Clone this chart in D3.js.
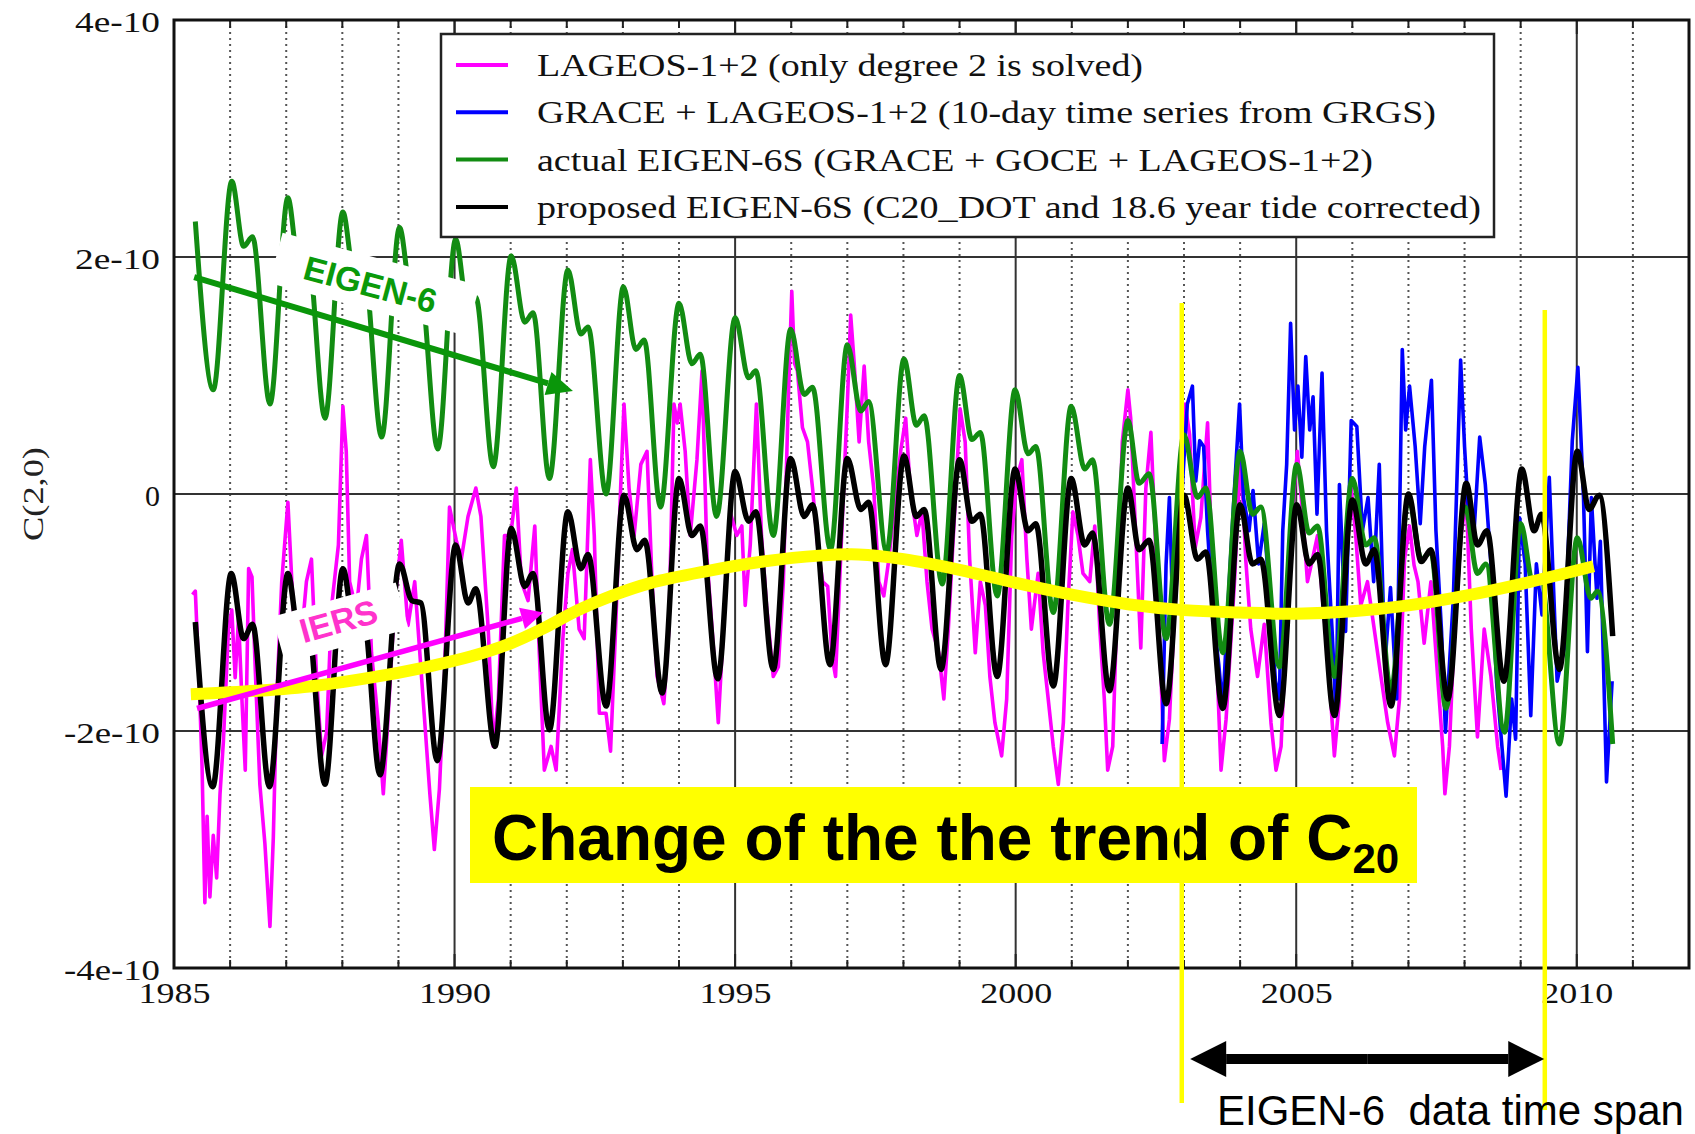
<!DOCTYPE html>
<html>
<head>
<meta charset="utf-8">
<script src="https://cdn.jsdelivr.net/npm/d3@7"></script>
<style>
  html, body { margin: 0; padding: 0; background: #fff; }
  svg { display: block; }
</style>
</head>
<body>
<svg id="chart" width="1695" height="1134"></svg>
<script>
// C(2,0) time series, values in units of 1e-10, time in decimal years

// proposed EIGEN-6S (C20_DOT and 18.6 year tide corrected)
const proposedSeries = [
  [1985.38,-1.08],[1985.69,-2.47],[1986.02,-0.67],[1986.24,-1.22],[1986.40,-1.10],[1986.70,-2.47],
  [1987.03,-0.67],[1987.23,-1.20],[1987.38,-1.08],[1987.69,-2.45],
  [1988.01,-0.63],[1988.22,-1.15],[1988.38,-1.05],[1988.67,-2.37],
  [1989.02,-0.59],[1989.24,-0.90],[1989.40,-0.92],[1989.69,-2.25],
  [1990.02,-0.43],[1990.24,-0.92],[1990.38,-0.80],[1990.72,-2.13],
  [1991.01,-0.29],[1991.25,-0.78],[1991.40,-0.67],[1991.69,-1.99],
  [1992.02,-0.15],[1992.25,-0.63],[1992.38,-0.51],[1992.70,-1.79],
  [1993.02,-0.01],[1993.25,-0.47],[1993.39,-0.39],[1993.70,-1.68],
  [1994.00,0.13],[1994.23,-0.35],[1994.38,-0.27],[1994.69,-1.56],
  [1995.00,0.19],[1995.24,-0.23],[1995.37,-0.15],[1995.68,-1.48],
  [1995.99,0.30],[1996.23,-0.19],[1996.38,-0.09],[1996.69,-1.44],
  [1997.00,0.30],[1997.24,-0.13],[1997.38,-0.07],[1997.68,-1.44],
  [1998.01,0.32],[1998.23,-0.19],[1998.37,-0.13],[1998.67,-1.48],
  [1999.00,0.29],[1999.22,-0.23],[1999.37,-0.17],[1999.67,-1.54],
  [1999.99,0.21],[2000.22,-0.31],[2000.36,-0.25],[2000.67,-1.62],
  [2000.99,0.13],[2001.23,-0.43],[2001.37,-0.33],[2001.67,-1.66],
  [2002.00,0.05],[2002.20,-0.47],[2002.38,-0.39],[2002.68,-1.77],
  [2003.00,-0.01],[2003.24,-0.55],[2003.39,-0.49],[2003.69,-1.81],
  [2004.00,-0.09],[2004.22,-0.59],[2004.37,-0.55],[2004.70,-1.87],
  [2005.01,-0.09],[2005.23,-0.59],[2005.38,-0.51],[2005.68,-1.87],
  [2006.00,-0.05],[2006.24,-0.59],[2006.39,-0.47],[2006.69,-1.79],
  [2007.00,0.00],[2007.23,-0.57],[2007.40,-0.47],[2007.70,-1.73],
  [2008.03,0.09],[2008.23,-0.43],[2008.40,-0.31],[2008.70,-1.58],
  [2009.02,0.21],[2009.24,-0.31],[2009.37,-0.17],[2009.69,-1.48],
  [2010.01,0.36],[2010.22,-0.13],[2010.40,-0.01],[2010.64,-1.20]
];

// actual EIGEN-6S (GRACE + GOCE + LAGEOS-1+2)
const actualSeries = [
  [1985.38,2.30],[1985.70,0.88],[1986.03,2.64],[1986.24,2.09],[1986.40,2.17],[1986.71,0.76],
  [1987.03,2.50],[1987.22,1.95],[1987.38,2.05],[1987.69,0.64],
  [1988.01,2.38],[1988.21,1.85],[1988.38,1.93],[1988.70,0.48],
  [1989.02,2.25],[1989.22,1.72],[1989.38,1.80],[1989.70,0.38],
  [1990.02,2.15],[1990.23,1.58],[1990.38,1.66],[1990.69,0.23],
  [1991.01,2.01],[1991.25,1.45],[1991.40,1.53],[1991.69,0.13],
  [1992.02,1.89],[1992.25,1.35],[1992.38,1.41],[1992.70,0.00],
  [1993.01,1.75],[1993.23,1.22],[1993.38,1.30],[1993.67,-0.11],
  [1994.00,1.61],[1994.23,1.10],[1994.38,1.18],[1994.67,-0.19],
  [1995.00,1.49],[1995.24,0.98],[1995.37,1.04],[1995.68,-0.35],
  [1995.99,1.39],[1996.23,0.84],[1996.38,0.90],[1996.70,-0.47],
  [1997.00,1.26],[1997.24,0.70],[1997.38,0.78],[1997.70,-0.49],
  [1998.01,1.14],[1998.23,0.58],[1998.37,0.66],[1998.69,-0.76],
  [1999.00,1.00],[1999.22,0.46],[1999.37,0.52],[1999.67,-0.86],
  [1999.99,0.88],[2000.22,0.34],[2000.36,0.40],[2000.67,-1.00],
  [2000.99,0.74],[2001.23,0.21],[2001.37,0.29],[2001.67,-1.10],
  [2002.00,0.62],[2002.20,0.09],[2002.38,0.17],[2002.68,-1.22],
  [2003.00,0.50],[2003.24,-0.03],[2003.39,0.05],[2003.69,-1.34],
  [2004.00,0.36],[2004.22,-0.17],[2004.37,-0.11],[2004.70,-1.46],
  [2005.01,0.25],[2005.23,-0.33],[2005.38,-0.27],[2005.68,-1.54],
  [2006.00,0.13],[2006.24,-0.43],[2006.39,-0.37],[2006.69,-1.66],
  [2007.00,-0.03],[2007.23,-0.55],[2007.40,-0.49],[2007.67,-1.81],
  [2008.01,-0.11],[2008.23,-0.67],[2008.38,-0.59],[2008.71,-2.01],
  [2009.00,-0.25],[2009.22,-0.75],[2009.36,-0.72],[2009.69,-2.11],
  [2010.01,-0.37],[2010.25,-0.88],[2010.37,-0.82],[2010.64,-2.11]
];

// LAGEOS-1+2 (only degree 2 is solved)
const lageosSeries = [
  [1985.33,-0.85],[1985.38,-0.82],[1985.45,-1.60],[1985.50,-2.30],[1985.55,-3.45],[1985.59,-2.72],
  [1985.64,-3.40],[1985.70,-2.88],[1985.76,-3.24],[1985.82,-2.53],[1985.88,-2.09],[1985.97,-1.14],
  [1986.03,-0.98],[1986.09,-1.55],[1986.15,-1.05],[1986.21,-1.73],[1986.27,-2.33],[1986.33,-0.63],
  [1986.39,-0.70],[1986.45,-1.50],[1986.53,-2.45],[1986.62,-2.95],[1986.71,-3.65],[1986.77,-2.90],
  [1986.83,-1.73],[1986.92,-0.74],[1987.03,-0.07],[1987.10,-0.74],[1987.16,-1.26],[1987.25,-1.33],
  [1987.36,-0.74],[1987.45,-0.55],[1987.54,-1.54],[1987.63,-2.21],[1987.72,-2.01],[1987.81,-0.94],
  [1987.93,-0.43],[1988.01,0.74],[1988.07,0.36],[1988.13,-0.74],[1988.25,-0.98],[1988.34,-0.55],
  [1988.43,-0.35],[1988.52,-1.34],[1988.64,-1.93],[1988.73,-2.53],[1988.81,-1.93],[1988.93,-0.94],
  [1989.05,-0.39],[1989.17,-1.11],[1989.29,-0.74],[1989.44,-1.73],[1989.56,-2.53],[1989.64,-3.00],
  [1989.73,-2.49],[1989.82,-1.54],[1989.91,-0.11],[1990.03,-0.39],[1990.12,-0.55],[1990.24,-0.19],
  [1990.38,0.05],[1990.47,-0.19],[1990.60,-1.14],[1990.69,-2.13],[1990.78,-1.73],[1990.89,-0.35],
  [1991.00,-0.35],[1991.10,0.05],[1991.19,-0.74],[1991.31,-0.90],[1991.43,-0.27],[1991.51,-1.34],
  [1991.60,-2.33],[1991.72,-2.13],[1991.81,-2.33],[1991.93,-1.22],[1992.02,-0.67],[1992.10,-0.47],
  [1992.22,-1.14],[1992.31,-1.22],[1992.42,0.29],[1992.49,-0.35],[1992.58,-1.85],[1992.70,-1.85],
  [1992.78,-2.17],[1992.87,-1.14],[1992.96,0.05],[1993.02,0.76],[1993.11,0.05],[1993.20,-0.35],
  [1993.32,0.25],[1993.43,0.36],[1993.52,-0.74],[1993.61,-1.54],[1993.73,-1.77],[1993.82,-1.14],
  [1993.91,0.76],[1993.97,0.60],[1994.02,0.76],[1994.11,0.36],[1994.20,-0.35],[1994.32,0.29],
  [1994.41,1.04],[1994.50,-0.55],[1994.62,-1.34],[1994.70,-1.93],[1994.79,-1.14],[1994.91,-0.15],
  [1995.03,-0.35],[1995.12,-0.27],[1995.18,-0.94],[1995.27,-0.43],[1995.38,0.76],[1995.47,-0.35],
  [1995.56,-0.94],[1995.68,-1.54],[1995.77,-1.46],[1995.86,-0.74],[1995.95,0.84],[1996.01,1.71],
  [1996.06,1.10],[1996.11,1.04],[1996.20,0.56],[1996.29,0.44],[1996.38,0.05],[1996.47,-0.43],
  [1996.56,-0.74],[1996.65,-0.78],[1996.73,-1.38],[1996.79,-1.54],[1996.88,-0.55],[1997.00,0.76],
  [1997.06,1.51],[1997.12,1.12],[1997.21,0.44],[1997.30,1.08],[1997.38,0.44],[1997.47,0.05],
  [1997.56,-0.74],[1997.65,-0.86],[1997.74,-0.55],[1997.83,-0.15],[1997.95,0.36],[1998.04,0.64],
  [1998.12,0.05],[1998.24,-0.35],[1998.33,-0.15],[1998.42,-0.74],[1998.51,-1.14],[1998.63,-1.34],
  [1998.72,-1.73],[1998.80,-1.14],[1998.89,-0.35],[1999.01,0.72],[1999.10,0.44],[1999.18,-0.55],
  [1999.28,-1.34],[1999.37,-0.74],[1999.46,-0.94],[1999.54,-1.54],[1999.63,-1.93],[1999.75,-2.21],
  [1999.84,-1.73],[1999.93,-0.35],[2000.02,0.13],[2000.11,0.29],[2000.20,-0.55],[2000.28,-1.14],
  [2000.40,-0.67],[2000.49,-1.34],[2000.58,-1.73],[2000.67,-2.13],[2000.76,-2.45],[2000.85,-1.93],
  [2000.93,-0.94],[2001.02,-0.15],[2001.11,-0.35],[2001.20,-0.67],[2001.32,-0.74],[2001.41,-0.27],
  [2001.50,-1.14],[2001.58,-1.73],[2001.64,-2.33],[2001.73,-2.13],[2001.82,-0.74],[2001.90,0.44],
  [2002.00,0.88],[2002.05,0.64],[2002.14,-0.35],[2002.23,-1.30],[2002.32,0.05],[2002.41,0.52],
  [2002.47,-0.15],[2002.56,-1.20],[2002.65,-2.25],[2002.74,-1.90],[2002.85,-0.80],[2002.95,0.30],
  [2003.02,0.76],[2003.10,0.50],[2003.20,-0.45],[2003.30,-0.20],[2003.42,0.60],[2003.52,-0.90],
  [2003.60,-1.60],[2003.66,-2.33],[2003.75,-1.90],[2003.90,-0.74],[2004.01,0.36],[2004.10,-0.55],
  [2004.19,-1.14],[2004.31,-1.54],[2004.43,-1.10],[2004.55,-1.93],[2004.64,-2.33],[2004.73,-2.13],
  [2004.82,-1.14],[2004.90,-0.35],[2005.02,0.36],[2005.11,-0.15],[2005.20,-0.74],[2005.29,-0.55],
  [2005.38,-0.35],[2005.47,-0.90],[2005.56,-1.34],[2005.68,-2.21],[2005.77,-1.73],[2005.86,-0.74],
  [2005.98,0.05],[2006.06,-0.35],[2006.15,-0.94],[2006.27,-0.74],[2006.39,-1.14],[2006.51,-1.54],
  [2006.63,-1.93],[2006.75,-2.21],[2006.84,-1.73],[2006.93,-0.55],[2007.02,-0.27],[2007.10,-0.60],
  [2007.17,-0.74],[2007.28,-1.26],[2007.40,-0.74],[2007.52,-1.54],[2007.61,-2.13],[2007.65,-2.53],
  [2007.73,-2.13],[2007.82,-1.14],[2007.94,-0.35],[2008.03,-0.03],[2008.12,-1.14],[2008.23,-2.05],
  [2008.35,-1.14],[2008.47,-1.54],[2008.59,-2.13],[2008.65,-2.33]
];

// GRACE + LAGEOS-1+2 (10-day time series from GRGS)
const graceSeries = [
  [2002.61,-2.11],[2002.68,-0.60],[2002.74,-0.03],[2002.81,-1.16],[2002.90,-0.50],[2003.00,0.30],
  [2003.06,0.76],[2003.15,0.91],[2003.21,0.11],[2003.28,0.45],[2003.35,0.40],[2003.42,-0.31],
  [2003.52,-1.02],[2003.62,-1.44],[2003.69,-1.81],[2003.79,-0.88],[2003.89,-0.03],[2003.99,0.76],
  [2004.06,-0.03],[2004.16,-0.31],[2004.23,0.03],[2004.33,-0.59],[2004.43,-0.25],[2004.53,-0.88],
  [2004.63,-1.58],[2004.70,-1.73],[2004.76,-0.31],[2004.83,0.25],[2004.90,1.44],[2004.97,0.54],
  [2005.03,0.91],[2005.10,0.31],[2005.17,1.16],[2005.24,0.54],[2005.30,0.82],[2005.37,-0.17],
  [2005.46,1.02],[2005.54,-0.31],[2005.64,-1.16],[2005.71,-1.87],[2005.77,0.08],[2005.88,-1.16],
  [2005.98,0.62],[2006.08,0.57],[2006.18,-0.31],[2006.28,-0.03],[2006.38,-0.74],[2006.48,0.25],
  [2006.58,-1.44],[2006.68,-0.79],[2006.79,-1.73],[2006.89,1.22],[2006.95,0.54],[2007.02,0.91],
  [2007.12,0.40],[2007.21,-0.25],[2007.29,0.40],[2007.41,0.96],[2007.49,-0.31],[2007.59,-1.16],
  [2007.66,-2.01],[2007.80,-0.88],[2007.93,1.13],[2008.00,0.40],[2008.07,-0.17],[2008.17,-0.31],
  [2008.27,0.48],[2008.37,0.08],[2008.47,-0.59],[2008.57,-1.58],[2008.67,-2.15],[2008.74,-2.55],
  [2008.84,-1.73],[2008.91,-2.07],[2008.98,-0.20],[2009.08,-0.59],[2009.18,-1.87],[2009.28,-0.59],
  [2009.38,-1.02],[2009.51,0.14],[2009.65,-1.58],[2009.78,-1.30],[2009.92,0.45],[2010.02,1.07],
  [2010.12,-0.03],[2010.19,-1.33],[2010.26,-0.03],[2010.36,-0.88],[2010.42,-0.40],[2010.53,-2.43],
  [2010.63,-1.58]
];

// long-term trend of C20 (hand-drawn highlight)
const trendSeries = [
  [1985.30,-1.69],[1986.50,-1.66],[1987.50,-1.62],[1988.50,-1.55],[1989.50,-1.46],[1990.30,-1.37],
  [1991.00,-1.26],[1991.60,-1.13],[1992.20,-0.98],[1992.80,-0.86],[1993.50,-0.75],[1994.50,-0.65],
  [1995.50,-0.57],[1996.50,-0.52],[1997.20,-0.51],[1998.00,-0.55],[1999.00,-0.64],[2000.00,-0.75],
  [2001.00,-0.85],[2002.00,-0.93],[2003.00,-0.98],[2004.00,-1.00],[2005.00,-1.01],[2006.00,-0.99],
  [2007.00,-0.94],[2008.00,-0.86],[2009.00,-0.76],[2010.30,-0.61]
];

// axis ticks
const xTickYears = [1985, 1990, 1995, 2000, 2005, 2010];
const xMinorYears = d3.range(1986, 2012).filter(v => v % 5 !== 0);
const yTickValues = [-4, -2, 0, 2, 4];
const yTickLabels = ["-4e-10", "-2e-10", "0", "2e-10", "4e-10"];

// legend entries
const legendLabels = [
  "LAGEOS-1+2 (only degree 2 is solved)",
  "GRACE + LAGEOS-1+2 (10-day time series from GRGS)",
  "actual EIGEN-6S (GRACE + GOCE + LAGEOS-1+2)",
  "proposed EIGEN-6S (C20_DOT and 18.6 year tide corrected)"
];
const legendColors = ["#ff00ff", "#0000ff", "#128c12", "#000000"];
const legendWidths = [606, 899, 836, 944];

// annotation anchors (data units)
const eigenArrow = [[1985.36, 1.83], [1992.11, 0.87]];
const iersArrow  = [[1985.41, -1.81], [1991.58, -1.00]];
const eigenLabelAt = [1988.50, 1.77];
const iersLabelAt  = [1987.93, -1.07];
const spanYears = [2002.96, 2009.43];
const spanArrowYears = [2003.11, 2009.42];

const svg = d3.select("#chart");
const x = d3.scaleLinear().domain([1985, 2012]).range([174, 1689]);
const y = d3.scaleLinear().domain([-4, 4]).range([968, 20]);

const SERIF = "'Liberation Serif', 'Times New Roman', serif";
const SANS = "'Liberation Sans', Arial, sans-serif";

svg.append("rect").attr("width", 1695).attr("height", 1134).attr("fill", "#fff");

svg.append("defs").append("clipPath").attr("id", "plotClip")
  .append("rect").attr("x", x(1985)).attr("y", y(4))
  .attr("width", x(2012) - x(1985)).attr("height", y(-4) - y(4));

// grid
const grid = svg.append("g");
grid.selectAll("line.minor").data(xMinorYears).join("line")
  .attr("x1", d => x(d)).attr("x2", d => x(d))
  .attr("y1", y(4)).attr("y2", y(-4))
  .attr("stroke", "#555").attr("stroke-width", 2)
  .attr("stroke-dasharray", "2,4");
grid.selectAll("line.major").data(xTickYears.filter(v => v > 1985)).join("line")
  .attr("x1", d => x(d)).attr("x2", d => x(d))
  .attr("y1", y(4)).attr("y2", y(-4))
  .attr("stroke", "#333").attr("stroke-width", 2);
grid.selectAll("line.hmajor").data([-2, 0, 2]).join("line")
  .attr("x1", x(1985)).attr("x2", x(2012))
  .attr("y1", d => y(d)).attr("y2", d => y(d))
  .attr("stroke", "#333").attr("stroke-width", 2);

// tick marks along top and bottom edges
const ticks = svg.append("g").attr("stroke", "#222").attr("stroke-width", 2);
d3.range(1986, 2012).forEach(yr => {
  const len = yr % 5 === 0 ? 14 : 8;
  ticks.append("line").attr("x1", x(yr)).attr("x2", x(yr)).attr("y1", y(4)).attr("y2", y(4) + len);
  ticks.append("line").attr("x1", x(yr)).attr("x2", x(yr)).attr("y1", y(-4)).attr("y2", y(-4) - len);
});

// series
const plot = svg.append("g").attr("clip-path", "url(#plotClip)");
const jagged = d3.line().x(d => x(d[0])).y(d => y(d[1]));
const smooth = d3.line().x(d => x(d[0])).y(d => y(d[1])).curve(d3.curveMonotoneX);

plot.append("path").datum(lageosSeries).attr("d", jagged)
  .attr("fill", "none").attr("stroke", "#ff00ff").attr("stroke-width", 3.6).attr("stroke-linejoin", "round");
plot.append("path").datum(graceSeries).attr("d", jagged)
  .attr("fill", "none").attr("stroke", "#0000ff").attr("stroke-width", 3.6).attr("stroke-linejoin", "round");
plot.append("path").datum(actualSeries).attr("d", smooth)
  .attr("fill", "none").attr("stroke", "#128c12").attr("stroke-width", 5).attr("stroke-linejoin", "round");
plot.append("path").datum(proposedSeries).attr("d", smooth)
  .attr("fill", "none").attr("stroke", "#000").attr("stroke-width", 5.5).attr("stroke-linejoin", "round");

// frame
svg.append("rect").attr("x", x(1985)).attr("y", y(4))
  .attr("width", x(2012) - x(1985)).attr("height", y(-4) - y(4))
  .attr("fill", "none").attr("stroke", "#111").attr("stroke-width", 3);

// axes
const xAxis = svg.append("g").attr("transform", `translate(0,${y(-4)})`)
  .call(d3.axisBottom(x).tickValues(xTickYears).tickFormat(d3.format("d")).tickSize(0).tickPadding(14));
xAxis.select(".domain").remove();
xAxis.selectAll("text")
  .attr("font-family", SERIF).attr("font-size", 29).attr("fill", "#111")
  .attr("textLength", 72).attr("lengthAdjust", "spacingAndGlyphs");

const yAxis = svg.append("g").attr("transform", `translate(${x(1985)},0)`)
  .call(d3.axisLeft(y).tickValues(yTickValues)
    .tickFormat((d, i) => yTickLabels[i]).tickSize(0).tickPadding(14));
yAxis.select(".domain").remove();
yAxis.selectAll("text")
  .attr("font-family", SERIF).attr("font-size", 30).attr("fill", "#111").attr("dy", "0.38em")
  .each(function (d, i) {
    const lbl = yTickLabels[i];
    if (lbl !== "0") {
      d3.select(this).attr("textLength", lbl.startsWith("-") ? 96 : 85)
        .attr("lengthAdjust", "spacingAndGlyphs");
    }
  });

svg.append("text")
  .attr("transform", "translate(43,494) rotate(-90)")
  .attr("text-anchor", "middle")
  .attr("font-family", SERIF).attr("font-size", 30).attr("fill", "#222")
  .attr("textLength", 94).attr("lengthAdjust", "spacingAndGlyphs")
  .text("C(2,0)");

// legend
const legend = svg.append("g");
legend.append("rect").attr("x", 441).attr("y", 34).attr("width", 1053).attr("height", 203)
  .attr("fill", "#fff").attr("stroke", "#222").attr("stroke-width", 2.5);
legendLabels.forEach((lbl, i) => {
  const cy = 65 + i * 47.3;
  legend.append("line").attr("x1", 456).attr("x2", 508).attr("y1", cy).attr("y2", cy)
    .attr("stroke", legendColors[i]).attr("stroke-width", 4);
  legend.append("text").attr("x", 537).attr("y", cy + 11)
    .attr("font-family", SERIF).attr("font-size", 32).attr("fill", "#111")
    .attr("textLength", legendWidths[i]).attr("lengthAdjust", "spacingAndGlyphs")
    .text(lbl);
});

// long-term trend highlight
svg.append("path").datum(trendSeries)
  .attr("d", d3.line().x(d => x(d[0])).y(d => y(d[1])).curve(d3.curveCatmullRom))
  .attr("fill", "none").attr("stroke", "#ffff00").attr("stroke-width", 12).attr("stroke-linecap", "butt");

// arrow helper
function arrow(g, x1, y1, x2, y2, color, width, headLen, headHalf) {
  const ang = Math.atan2(y2 - y1, x2 - x1);
  const bx = x2 - headLen * Math.cos(ang), by = y2 - headLen * Math.sin(ang);
  g.append("line").attr("x1", x1).attr("y1", y1).attr("x2", bx).attr("y2", by)
    .attr("stroke", color).attr("stroke-width", width);
  const px = -Math.sin(ang) * headHalf, py = Math.cos(ang) * headHalf;
  g.append("polygon")
    .attr("points", `${x2},${y2} ${bx + px},${by + py} ${bx - px},${by - py}`)
    .attr("fill", color);
}

const notes = svg.append("g");

// EIGEN-6 label and arrow
const eL = [x(eigenLabelAt[0]), y(eigenLabelAt[1])];
notes.append("rect").attr("x", -102).attr("y", -26).attr("width", 204).attr("height", 52)
  .attr("fill", "#fff").attr("transform", `translate(${eL[0] + 4},${eL[1]}) rotate(15)`);
arrow(notes, x(eigenArrow[0][0]), y(eigenArrow[0][1]), x(eigenArrow[1][0]), y(eigenArrow[1][1]),
  "#0a960a", 6, 26, 12);
notes.append("text")
  .attr("transform", `translate(${eL[0]},${eL[1]}) rotate(15)`)
  .attr("text-anchor", "middle").attr("dy", "0.36em")
  .attr("font-family", SANS).attr("font-weight", "bold").attr("font-size", 34)
  .attr("fill", "#0a9a0a").text("EIGEN-6");

// IERS label and arrow
const iL = [x(iersLabelAt[0]), y(iersLabelAt[1])];
notes.append("rect").attr("x", -64).attr("y", -24).attr("width", 128).attr("height", 48)
  .attr("fill", "#fff").attr("transform", `translate(${iL[0] + 2},${iL[1] + 2}) rotate(-15.5)`);
arrow(notes, x(iersArrow[0][0]), y(iersArrow[0][1]), x(iersArrow[1][0]), y(iersArrow[1][1]),
  "#ff00ff", 5.5, 22, 11);
notes.append("text")
  .attr("transform", `translate(${iL[0]},${iL[1]}) rotate(-15.5)`)
  .attr("text-anchor", "middle").attr("dy", "0.36em")
  .attr("font-family", SANS).attr("font-weight", "bold").attr("font-size", 34)
  .attr("fill", "#ff33cc").text("IERS");

// trend caption
notes.append("rect").attr("x", 470).attr("y", 787).attr("width", 947).attr("height", 96)
  .attr("fill", "#ffff00");
const cap = notes.append("text").attr("x", 492).attr("y", 860)
  .attr("font-family", SANS).attr("font-weight", "bold").attr("font-size", 64).attr("fill", "#000");
cap.append("tspan").text("Change of the the trend of C");
cap.append("tspan").attr("font-size", 42).attr("dy", 13).text("20");

// data time span markers
notes.selectAll("line.span").data(spanYears).join("line")
  .attr("x1", d => x(d)).attr("x2", d => x(d))
  .attr("y1", (d, i) => i === 0 ? 303 : 310).attr("y2", (d, i) => i === 0 ? 1103 : 1110)
  .attr("stroke", "#ffff00").attr("stroke-width", 4.5);

const sx1 = x(spanArrowYears[0]), sx2 = x(spanArrowYears[1]), sy = 1059;
const mid = (sx1 + sx2) / 2;
arrow(notes, mid, sy, sx2, sy, "#000", 10, 36, 18);
arrow(notes, mid, sy, sx1, sy, "#000", 10, 36, 18);

notes.append("text").attr("x", 1217).attr("y", 1125)
  .attr("font-family", SANS).attr("font-size", 42).attr("fill", "#000")
  .style("white-space", "pre")
  .text("EIGEN-6  data time span");
</script>
</body>
</html>
